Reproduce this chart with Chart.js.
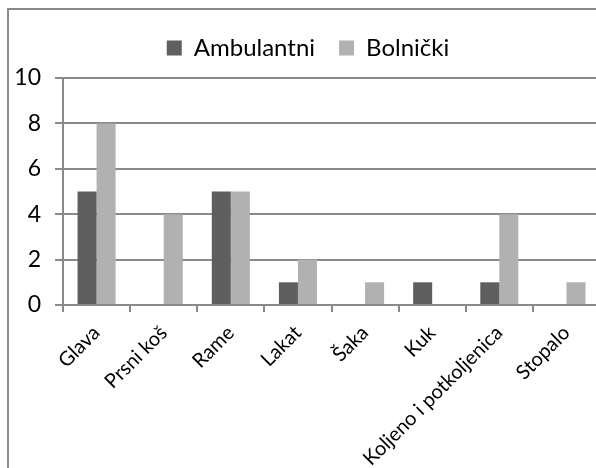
<!DOCTYPE html>
<html>
<head>
    <meta charset='UTF-8'>
    <script src="https://cdn.jsdelivr.net/npm/chart.js"></script>
    <style>
        body { margin: 0; background: #fff; overflow: hidden; width: 596px; height: 468px; }
        #frame { position: absolute; left: 7px; top: 8px; width: 700px; height: 600px;
                 border-left: 2px solid #8a8a8a; border-top: 2px solid #8a8a8a; }
        #wrap { position: absolute; left: 0; top: 0; width: 616px; height: 500px; }
    </style>
</head>
<title>Ozljede</title>

<body>
    <div id="frame"></div>
    <div id="wrap"><canvas id="myChart"></canvas></div>
    <script>
        const categories = ['Glava', 'Prsni koš', 'Rame', 'Lakat', 'Šaka', 'Kuk', 'Koljeno i potkoljenica', 'Stopalo'];
        const ambulantni = [5, 0, 5, 1, 0, 1, 1, 0];
        const bolnicki = [8, 4, 5, 2, 1, 0, 4, 1];
        const yMin = 0, yMax = 10, yStep = 2;

        const gridColor = '#8a8a8a';
        const fontFamily = 'Lato';

        // extra space between legend and plot
        const legendGap = {
            id: 'legendGap',
            afterInit(chart) {
                const fit = chart.legend.fit;
                chart.legend.fit = function () { fit.call(this); this.height += 8; };
            }
        };

        const data = {
            labels: categories,
            datasets: [{
                label: 'Ambulantni',
                backgroundColor: '#5f5f5f',
                data: ambulantni,
            }, {
                label: 'Bolnički',
                backgroundColor: '#b1b1b1',
                data: bolnicki,
            }]
        };

        const config = {
            type: 'bar',
            data: data,
            plugins: [legendGap],
            options: {
                animation: false,
                responsive: false,
                devicePixelRatio: 1,
                layout: { padding: { top: 12, left: 16, right: 16, bottom: 0 } },
                datasets: { bar: { barPercentage: 1, categoryPercentage: 0.567, borderWidth: 0 } },
                plugins: {
                    tooltip: { enabled: false },
                    legend: {
                        position: 'top',
                        labels: {
                            boxWidth: 15, boxHeight: 15, padding: 24,
                            color: '#000',
                            font: { family: fontFamily, size: 24 }
                        }
                    }
                },
                scales: {
                    x: {
                        grid: { drawOnChartArea: false, drawTicks: true, tickLength: 7, color: gridColor, lineWidth: 2 },
                        border: { color: gridColor, width: 2 },
                        ticks: { color: '#000', minRotation: 45, maxRotation: 45, padding: 9,
                                 font: { family: fontFamily, size: 20 } },
                        afterFit: function (scale) { scale.height = 195; }
                    },
                    y: {
                        min: yMin, max: yMax,
                        grid: { color: gridColor, lineWidth: 2, tickLength: 8 },
                        border: { color: gridColor, width: 2 },
                        ticks: { stepSize: yStep, color: '#000', padding: 14,
                                 font: { family: fontFamily, size: 23 } },
                        afterFit: function (scale) { scale.width = 47; }
                    }
                }
            }
        };
        const canvas = document.getElementById('myChart');
        canvas.width = 616;
        canvas.height = 500;
        const myChart = new Chart(canvas, config);
    </script>
</body>

</html>
